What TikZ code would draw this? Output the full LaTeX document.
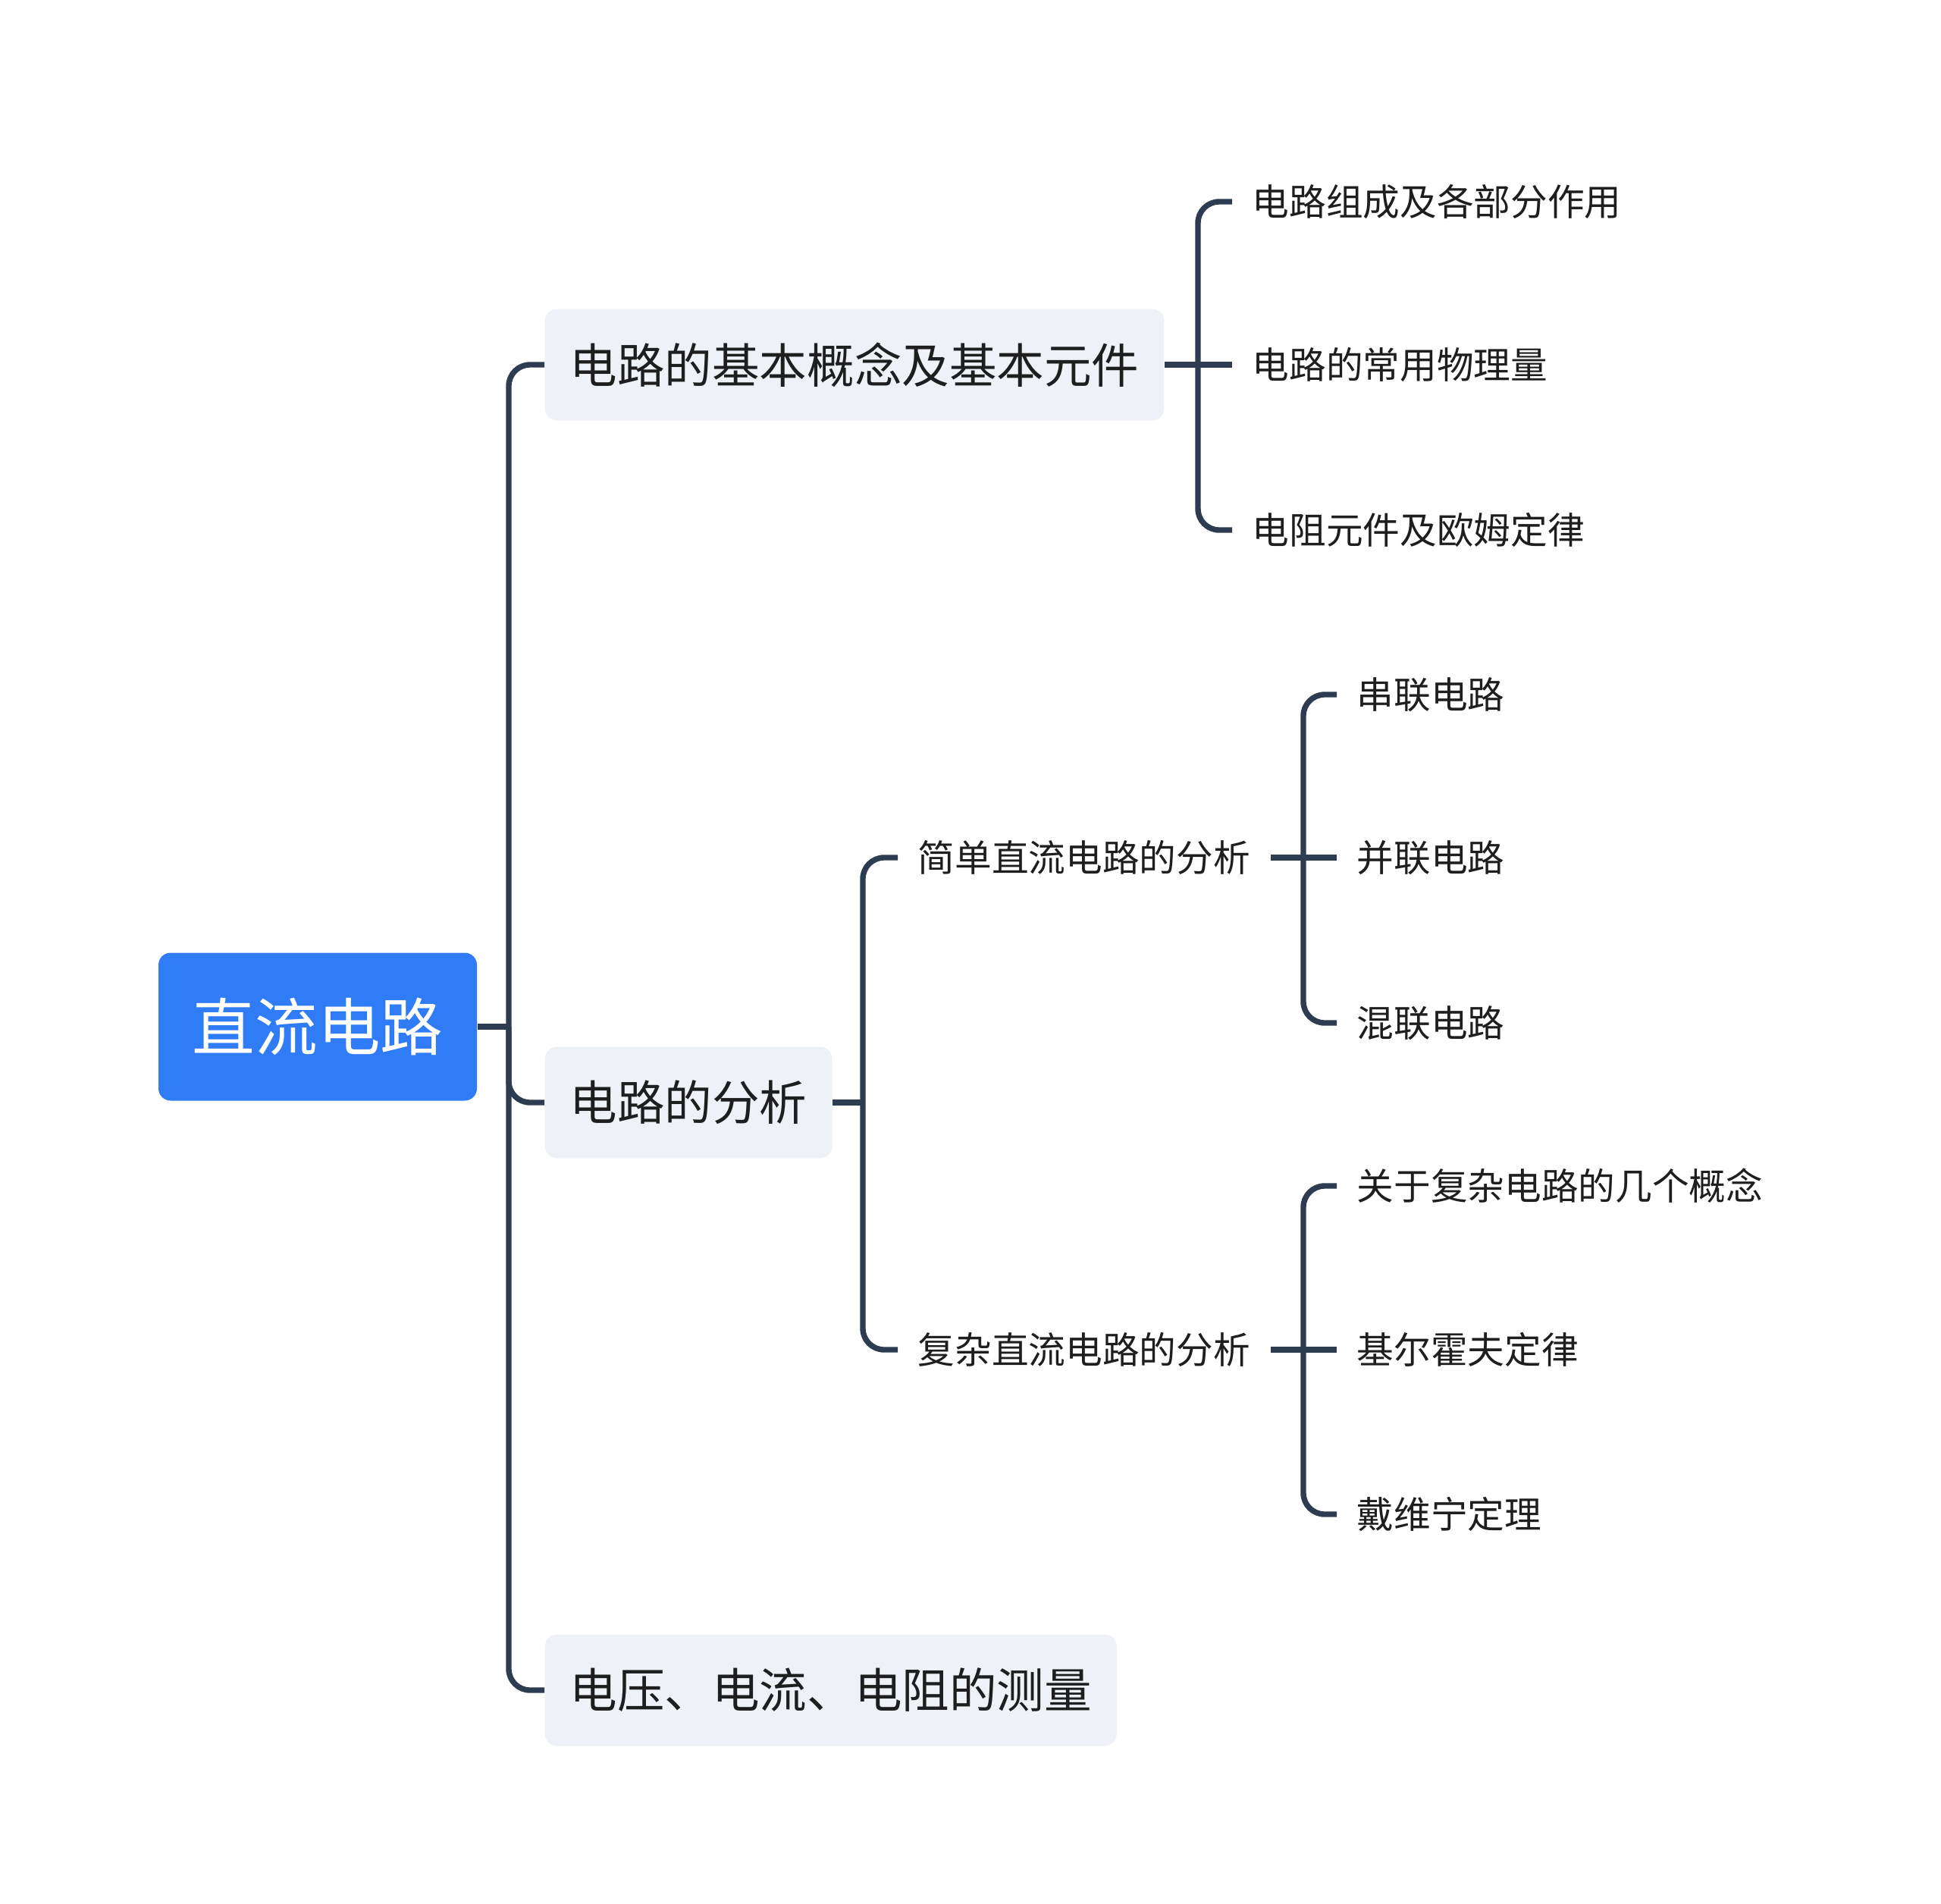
\documentclass[tikz,border=0pt]{standalone}
\usepackage{fontspec}
\usepackage{tikz}
\usepackage{xcolor}
\newfontfamily\cjk{Noto Sans CJK SC}
\definecolor{rootblue}{RGB}{47, 124, 246}
\definecolor{boxgray}{RGB}{238, 241, 245}
\definecolor{linkslate}{RGB}{45, 60, 80}
\definecolor{inktext}{RGB}{30, 30, 30}

\begin{document}
\begin{tikzpicture}[
  rootbox/.style={fill=rootblue, rounded corners=0.16cm, text=white, font=\cjk\fontsize{23.5pt}{26pt}\selectfont,
    minimum width=4.2cm, minimum height=1.95cm, inner sep=0pt},
  topicbox/.style={fill=boxgray, rounded corners=0.16cm, text=inktext, font=\cjk\fontsize{17.8pt}{20pt}\selectfont,
    minimum height=1.47cm, inner xsep=0.33cm, inner ysep=0pt, anchor=west},
  leaf/.style={text=inktext, font=\cjk\fontsize{13.85pt}{16pt}\selectfont, inner xsep=0.26cm, inner ysep=0.1cm, anchor=west},
  link/.style={draw=linkslate, line width=2.1pt, rounded corners=0.28cm}
]
  \useasboundingbox (0, 0) rectangle (25.6, -25.11);

  \node[rootbox] (root) at (4.19, -13.54) {直流电路};

  \node[topicbox] (basic) at (7.18, -4.81) {电路的基本概念及基本元件};
  \node[topicbox] (anal) at (7.18, -14.54) {电路的分析};
  \node[topicbox] (meas) at (7.18, -22.29) {电压、电流、电阻的测量};

  \node[leaf] (compo) at (16.25, -2.66) {电路组成及各部分作用};
  \node[leaf] (quant) at (16.25, -4.81) {电路的常用物理量};
  \node[leaf] (ohm) at (16.25, -6.99) {电阻元件及欧姆定律};

  \node[leaf] (simple) at (11.84, -11.31) {简单直流电路的分析};
  \node[leaf] (complex) at (11.84, -17.80) {复杂直流电路的分析};

  \node[leaf] (series) at (17.63, -9.16) {串联电路};
  \node[leaf] (para) at (17.63, -11.31) {并联电路};
  \node[leaf] (mixed) at (17.63, -13.49) {混联电路};

  \node[leaf] (concept) at (17.63, -15.64) {关于复杂电路的几个概念};
  \node[leaf] (kirch) at (17.63, -17.80) {基尔霍夫定律};
  \node[leaf] (theve) at (17.63, -19.97) {戴维宁定理};

  \coordinate (j0) at (6.71, -13.54);
  \coordinate (j1) at (15.80, -4.81);
  \coordinate (j2) at (11.38, -14.54);
  \coordinate (j3) at (17.19, -11.31);
  \coordinate (j4) at (17.19, -17.80);

  \draw[link] (root.east) -- (j0);
  \draw[link] (j0) |- (basic.west);
  \draw[link] (j0) |- (anal.west);
  \draw[link] (j0) |- (meas.west);

  \draw[link] (basic.east) -- (quant.west);
  \draw[link] (j1) |- (compo.west);
  \draw[link] (j1) |- (ohm.west);

  \draw[link] (anal.east) -- (j2);
  \draw[link] (j2) |- (simple.west);
  \draw[link] (j2) |- (complex.west);

  \draw[link] (simple.east) -- (para.west);
  \draw[link] (j3) |- (series.west);
  \draw[link] (j3) |- (mixed.west);

  \draw[link] (complex.east) -- (kirch.west);
  \draw[link] (j4) |- (concept.west);
  \draw[link] (j4) |- (theve.west);
\end{tikzpicture}
\end{document}
